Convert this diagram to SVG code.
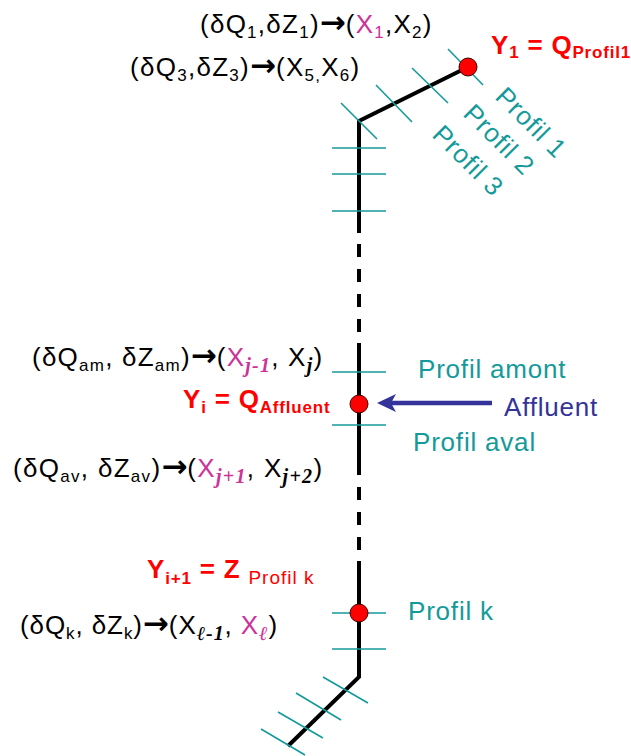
<svg xmlns="http://www.w3.org/2000/svg" width="631" height="756" viewBox="0 0 631 756">
<style>
.t{font-family:"Liberation Sans",Arial,sans-serif;font-size:26px;fill:#000;letter-spacing:0.8px}
.s{font-size:17px}
.m{fill:#CC3399}
.j{font-family:"Liberation Serif","Times New Roman",serif;font-style:italic;font-weight:bold;font-size:20px}
.a{font-family:"DejaVu Sans",sans-serif;font-weight:bold;font-size:31px;letter-spacing:0}
.r{fill:#FF0000;font-weight:bold}
.tl{fill:#149A9A}
.tick{stroke:#149A9A;stroke-width:1.6;fill:none}
.riv{stroke:#000;stroke-width:4;fill:none}
.dot{fill:#FF0000;stroke:#400000;stroke-width:1}
</style>
<rect width="631" height="756" fill="#fff"/>
<g id="connectors">
  <polyline class="riv" points="468,67 359,121 359,233"/>
  <line class="riv" x1="359" y1="244" x2="359" y2="332" stroke-dasharray="13 12"/>
  <line class="riv" x1="359" y1="343" x2="359" y2="475"/>
  <line class="riv" x1="359" y1="487" x2="359" y2="550" stroke-dasharray="13 12"/>
  <polyline class="riv" points="359,561 359,677 288,746"/>
  <g id="affluent-arrow">
    <line x1="492" y1="403" x2="390" y2="403" stroke="#333399" stroke-width="4.5"/>
    <path d="M377,403 L396,394 L391,403 L396,412 Z" fill="#333399"/>
  </g>
</g>
<g id="ticks">
  <line class="tick" x1="448" y1="49" x2="483" y2="85"/>
  <line class="tick" x1="412" y1="68" x2="448" y2="103"/>
  <line class="tick" x1="376" y1="85" x2="412" y2="122"/>
  <line class="tick" x1="341" y1="103" x2="377" y2="139"/>
  <line class="tick" x1="332" y1="148" x2="386" y2="148"/>
  <line class="tick" x1="332" y1="174" x2="386" y2="174"/>
  <line class="tick" x1="332" y1="211" x2="386" y2="211"/>
  <line class="tick" x1="332" y1="372" x2="386" y2="372"/>
  <line class="tick" x1="332" y1="425" x2="386" y2="425"/>
  <line class="tick" x1="332" y1="613" x2="386" y2="613"/>
  <line class="tick" x1="332" y1="649" x2="386" y2="649"/>
  <line class="tick" x1="323" y1="677" x2="368" y2="703"/>
  <line class="tick" x1="296" y1="693" x2="341" y2="720"/>
  <line class="tick" x1="278" y1="712" x2="323" y2="738"/>
  <line class="tick" x1="261" y1="729" x2="305" y2="755"/>
</g>
<g id="node-profil1">
  <circle class="dot" cx="468" cy="67" r="9"/>
  <text class="t r" x="491" y="54">Y<tspan class="s" dy="4">1</tspan><tspan dy="-4"> = Q</tspan><tspan class="s" dy="4">Profil1</tspan></text>
</g>
<g id="node-affluent">
  <circle class="dot" cx="359" cy="404" r="9"/>
  <text class="t r" x="183" y="408">Y<tspan class="s" dy="5">i</tspan><tspan dy="-5"> = Q</tspan><tspan class="s" dy="5">Affluent</tspan></text>
</g>
<g id="node-profilk">
  <circle class="dot" cx="359" cy="613" r="9"/>
  <text class="t r" x="147" y="578">Y<tspan class="s" dy="6">i+1</tspan><tspan dy="-6"> = Z </tspan><tspan dy="6" style="font-size:19px;font-weight:normal;letter-spacing:1px">Profil k</tspan></text>
</g>
<g id="labels-profils">
  <text class="t tl" transform="translate(494,98) rotate(45)">Profil 1</text>
  <text class="t tl" transform="translate(462,115) rotate(45)">Profil 2</text>
  <text class="t tl" transform="translate(431,136) rotate(45)">Profil 3</text>
  <text class="t tl" x="418" y="378">Profil amont</text>
  <text class="t tl" x="413" y="451">Profil aval</text>
  <text class="t tl" x="408" y="620">Profil k</text>
  <text class="t" x="504" y="416" style="fill:#333399">Affluent</text>
</g>
<g id="formulas">
  <text class="t" x="200" y="33" style="letter-spacing:1.25px">(δQ<tspan class="s" dy="5">1</tspan><tspan dy="-5">,δZ</tspan><tspan class="s" dy="5">1</tspan><tspan dy="-5">)</tspan><tspan class="a">→</tspan>(<tspan class="m">X</tspan><tspan class="s m" dy="5">1</tspan><tspan dy="-5">,X</tspan><tspan class="s" dy="5">2</tspan><tspan dy="-5">)</tspan></text>
  <text class="t" x="130" y="76" style="letter-spacing:1.27px">(δQ<tspan class="s" dy="5">3</tspan><tspan dy="-5">,δZ</tspan><tspan class="s" dy="5">3</tspan><tspan dy="-5">)</tspan><tspan class="a">→</tspan>(X<tspan class="s" dy="5">5,</tspan><tspan dy="-5">X</tspan><tspan class="s" dy="5">6</tspan><tspan dy="-5">)</tspan></text>
  <text class="t" x="32" y="366" style="letter-spacing:1.23px">(δQ<tspan class="s" dy="5">am</tspan><tspan dy="-5">, δZ</tspan><tspan class="s" dy="5">am</tspan><tspan dy="-5">)</tspan><tspan class="a">→</tspan>(<tspan class="m">X</tspan><tspan class="j m" dy="6">j-1</tspan><tspan dy="-6">, X</tspan><tspan class="j" dy="6">j</tspan><tspan dy="-6">)</tspan></text>
  <text class="t" x="13" y="477" style="letter-spacing:1.3px">(δQ<tspan class="s" dy="5">av</tspan><tspan dy="-5">, δZ</tspan><tspan class="s" dy="5">av</tspan><tspan dy="-5">)</tspan><tspan class="a">→</tspan>(<tspan class="m">X</tspan><tspan class="j m" dy="6">j+1</tspan><tspan dy="-6">, X</tspan><tspan class="j" dy="6">j+2</tspan><tspan dy="-6">)</tspan></text>
  <text class="t" x="20" y="634" style="letter-spacing:0.9px">(δQ<tspan class="s" dy="5">k</tspan><tspan dy="-5">, δZ</tspan><tspan class="s" dy="5">k</tspan><tspan dy="-5">)</tspan><tspan class="a">→</tspan>(X<tspan class="j" dy="6">ℓ-1</tspan><tspan dy="-6">, </tspan><tspan class="m">X</tspan><tspan class="j m" dy="6">ℓ</tspan><tspan dy="-6">)</tspan></text>
</g>
</svg>
